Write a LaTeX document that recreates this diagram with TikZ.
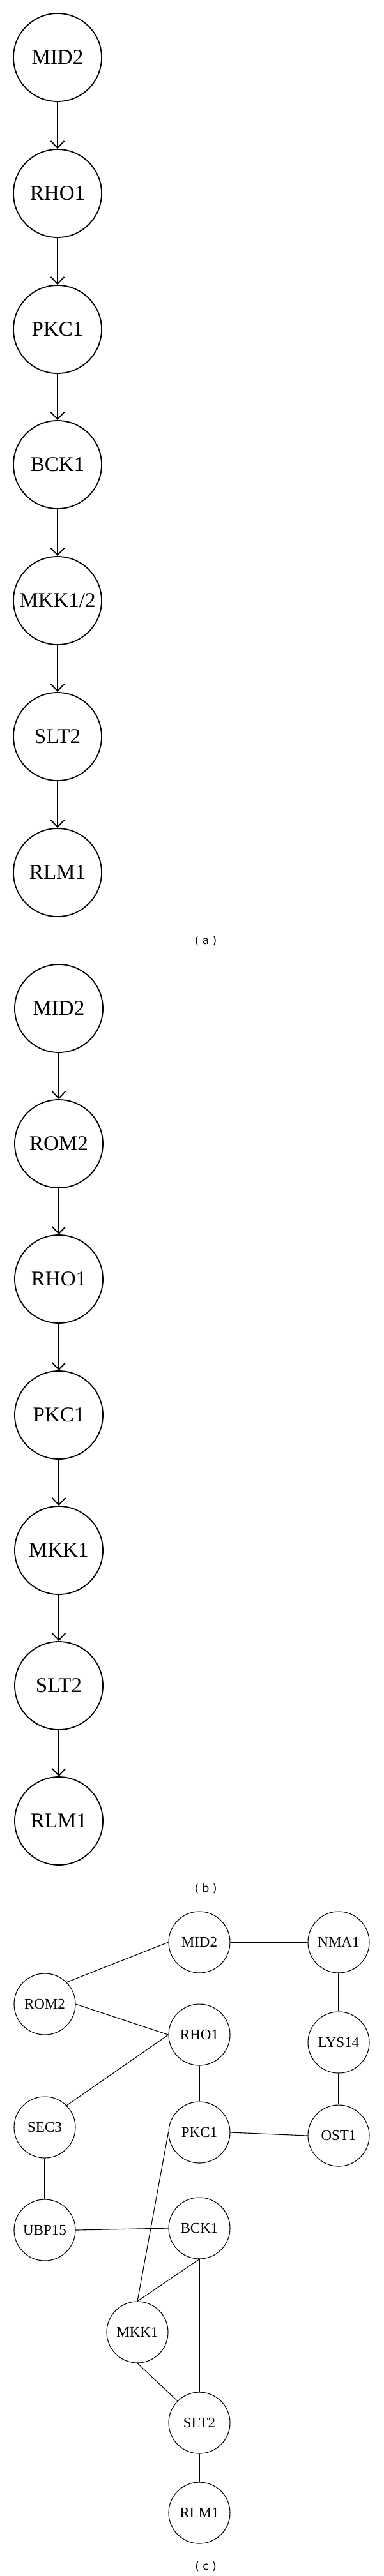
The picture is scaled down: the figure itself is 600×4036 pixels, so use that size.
\documentclass[tikz,border=0pt]{standalone}
\usepackage{fontspec}
\setmainfont{Liberation Serif}
\newfontfamily\capfont{DejaVu Sans}
\usetikzlibrary{arrows.meta}

\begin{document}
\begin{tikzpicture}[x = 1pt, y = -1pt]
	\tikzstyle{bigStyle} = [shape = circle, minimum size = 138pt, inner sep = 0pt, line width = 1.8pt, draw, font = \fontsize{33}{36}\selectfont]
	\tikzstyle{smallStyle} = [shape = circle, minimum size = 96pt, inner sep = 0pt, line width = 1.1pt, draw, font = \fontsize{23}{26}\selectfont]
	\tikzstyle{arrowStyle} = [line width = 1.8pt, -{Straight Barb[length = 11pt, width = 21pt]}]
	\tikzstyle{linkStyle} = [line width = 1.1pt]
	\tikzstyle{captionStyle} = [inner sep = 0pt, font = \capfont\fontsize{17}{20}\selectfont]
	\useasboundingbox (0,0) rectangle (600,4036);
	% (a)
	\node[bigStyle] (a0) at (90, 90) {MID2};
	\node[bigStyle] (a1) at (90, 303) {RHO1};
	\node[bigStyle] (a2) at (90, 516) {PKC1};
	\node[bigStyle] (a3) at (90, 728) {BCK1};
	\node[bigStyle] (a4) at (90, 941) {MKK1/2};
	\node[bigStyle] (a5) at (90, 1154) {SLT2};
	\node[bigStyle] (a6) at (90, 1367) {RLM1};
	\draw[arrowStyle] (a0) -- (a1);
	\draw[arrowStyle] (a1) -- (a2);
	\draw[arrowStyle] (a2) -- (a3);
	\draw[arrowStyle] (a3) -- (a4);
	\draw[arrowStyle] (a4) -- (a5);
	\draw[arrowStyle] (a5) -- (a6);
	\node[captionStyle] (capa) at (322, 1474) {( a )};
	% (b)
	\node[bigStyle] (b0) at (92, 1580) {MID2};
	\node[bigStyle] (b1) at (92, 1792) {ROM2};
	\node[bigStyle] (b2) at (92, 2004) {RHO1};
	\node[bigStyle] (b3) at (92, 2217) {PKC1};
	\node[bigStyle] (b4) at (92, 2429) {MKK1};
	\node[bigStyle] (b5) at (92, 2641) {SLT2};
	\node[bigStyle] (b6) at (92, 2853) {RLM1};
	\draw[arrowStyle] (b0) -- (b1);
	\draw[arrowStyle] (b1) -- (b2);
	\draw[arrowStyle] (b2) -- (b3);
	\draw[arrowStyle] (b3) -- (b4);
	\draw[arrowStyle] (b4) -- (b5);
	\draw[arrowStyle] (b5) -- (b6);
	\node[captionStyle] (capb) at (322, 2959) {( b )};
	% (c)
	\node[smallStyle] (c0) at (312, 3043) {MID2};
	\node[smallStyle] (c1) at (530, 3043) {NMA1};
	\node[smallStyle] (c2) at (70, 3140) {ROM2};
	\node[smallStyle] (c3) at (312, 3188) {RHO1};
	\node[smallStyle] (c4) at (530, 3200) {LYS14};
	\node[smallStyle] (c5) at (70, 3333) {SEC3};
	\node[smallStyle] (c6) at (312, 3341) {PKC1};
	\node[smallStyle] (c7) at (530, 3346) {OST1};
	\node[smallStyle] (c8) at (70, 3494) {UBP15};
	\node[smallStyle] (c9) at (312, 3491) {BCK1};
	\node[smallStyle] (c10) at (215, 3654) {MKK1};
	\node[smallStyle] (c11) at (312, 3796) {SLT2};
	\node[smallStyle] (c12) at (312, 3937) {RLM1};
	\draw[linkStyle] (c2.north east) -- (c0.west);
	\draw[linkStyle] (c0.east) -- (c1.west);
	\draw[linkStyle] (c2.east) -- (c3.west);
	\draw[linkStyle] (c5.north east) -- (c3.west);
	\draw[linkStyle] (c1.south) -- (c4.north);
	\draw[linkStyle] (c3.south) -- (c6.north);
	\draw[linkStyle] (c4.south) -- (c7.north);
	\draw[linkStyle] (c6.east) -- (c7.west);
	\draw[linkStyle] (c5.south) -- (c8.north);
	\draw[linkStyle] (c8.east) -- (c9.west);
	\draw[linkStyle] (c6.west) -- (c10.north);
	\draw[linkStyle] (c9.south) -- (c10.north);
	\draw[linkStyle] (c9.south) -- (c11.north);
	\draw[linkStyle] (c10.south) -- (c11.north west);
	\draw[linkStyle] (c11.south) -- (c12.north);
	\node[captionStyle] (capc) at (322, 4021) {( c )};
\end{tikzpicture}
\end{document}
